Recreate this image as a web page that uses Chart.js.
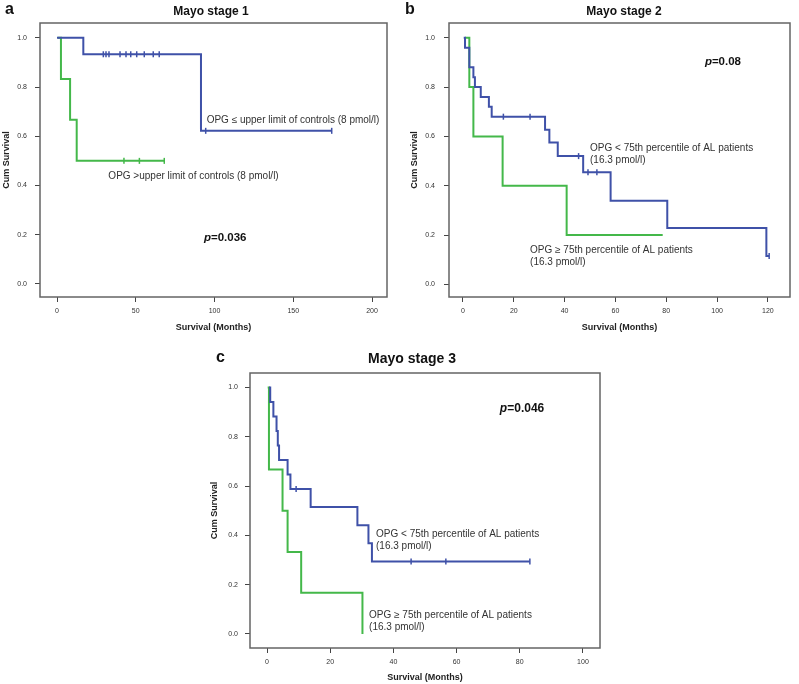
<!DOCTYPE html>
<html>
<head>
<meta charset="utf-8">
<script src="https://cdn.jsdelivr.net/npm/chart.js@4.4.1/dist/chart.umd.min.js"></script>
<style>
body{margin:0;background:#fff;width:799px;height:684px;overflow:hidden;position:relative}
canvas{position:absolute}
</style>
</head>
<body>
<canvas id="km-stage1" width="400" height="340" style="left:0;top:0"></canvas>
<canvas id="km-stage2" width="399" height="340" style="left:400px;top:0"></canvas>
<canvas id="km-stage3" width="420" height="344" style="left:190px;top:340px"></canvas>
<script>

// Mayo stage 1
var s1BlueTime = [0, 16.7, 91.4, 174.4];
var s1BlueSurv = [1, 0.933, 0.622, 0.622];
var s1BlueCensTime = [29.4, 31.1, 33.0, 40, 43.8, 46.8, 50.6, 55.4, 61.1, 64.9, 94.4, 174.4];
var s1BlueCensSurv = [0.933, 0.933, 0.933, 0.933, 0.933, 0.933, 0.933, 0.933, 0.933, 0.933, 0.622, 0.622];
var s1GreenTime = [0.4, 2.5, 8.3, 12.5, 68.1];
var s1GreenSurv = [1, 0.833, 0.667, 0.5, 0.5];
var s1GreenCensTime = [42.5, 52.3, 68.1];
var s1GreenCensSurv = [0.5, 0.5, 0.5];
var s1XTicks = [0, 50, 100, 150, 200];

// Mayo stage 2
var s2BlueTime = [0.3, 0.8, 2.5, 4.1, 4.7, 7.0, 10.2, 11.3, 32.3, 34.0, 37.3, 47.3, 58.1, 80.4, 119.4, 120.5];
var s2BlueSurv = [1, 0.96, 0.88, 0.84, 0.80, 0.76, 0.72, 0.68, 0.627, 0.575, 0.52, 0.455, 0.339, 0.228, 0.115, 0.115];
var s2BlueCensTime = [15.9, 26.4, 45.5, 49.2, 52.7, 120.5];
var s2BlueCensSurv = [0.68, 0.68, 0.52, 0.455, 0.455, 0.115];
var s2GreenTime = [0.8, 2.5, 4.1, 15.6, 40.8, 78.6];
var s2GreenSurv = [1, 0.8, 0.6, 0.4, 0.2, 0.2];
var s2GreenCensTime = [];
var s2GreenCensSurv = [];
var s2XTicks = [0, 20, 40, 60, 80, 100, 120];

// Mayo stage 3
var s3BlueTime = [0.6, 1.0, 2.0, 3.0, 3.4, 3.8, 6.5, 7.4, 13.8, 28.6, 32.1, 33.2, 83.2];
var s3BlueSurv = [1, 0.941, 0.882, 0.824, 0.765, 0.706, 0.647, 0.588, 0.515, 0.441, 0.368, 0.294, 0.294];
var s3BlueCensTime = [9.2, 45.6, 56.6, 83.2];
var s3BlueCensSurv = [0.588, 0.294, 0.294, 0.294];
var s3GreenTime = [0.2, 0.6, 4.9, 6.5, 10.8, 30.2];
var s3GreenSurv = [1, 0.667, 0.5, 0.333, 0.167, 0];
var s3GreenCensTime = [];
var s3GreenCensSurv = [];
var s3XTicks = [0, 20, 40, 60, 80, 100];

var yTicks = [0, 0.2, 0.4, 0.6, 0.8, 1.0];

var FONT = '"Liberation Sans", Arial, sans-serif';
var BLUE = '#3f51a8';
var GREEN = '#44b84a';

function pts(t, s){
    return t.map(function(x, i){ return {x: x, y: s[i]}; });
}

// frame, panel letter, title, p value and curve notes
var decor = {
    id: 'decor',
    afterDraw: function(chart, args, o){
        var ctx = chart.ctx, ca = chart.chartArea;
        var xs = chart.scales.x, ys = chart.scales.y;
        ctx.save();
        ctx.strokeStyle = '#646464';
        ctx.lineWidth = 1.5;
        ctx.strokeRect(ca.left, ca.top, ca.right - ca.left, ca.bottom - ca.top);

        ctx.fillStyle = '#111';
        ctx.textBaseline = 'middle';
        ctx.textAlign = 'left';
        ctx.font = 'bold 16px ' + FONT;
        ctx.fillText(o.letter, o.letterAt[0], o.letterAt[1]);

        ctx.textAlign = 'center';
        ctx.font = 'bold ' + o.titleSize + 'px ' + FONT;
        ctx.fillText(o.title, o.titleAt[0], o.titleAt[1]);

        ctx.textAlign = 'left';
        var px = xs.getPixelForValue(o.pAt[0]), py = ys.getPixelForValue(o.pAt[1]);
        ctx.font = 'italic bold ' + o.pSize + 'px ' + FONT;
        ctx.fillText('p', px, py);
        var w = ctx.measureText('p').width;
        ctx.font = 'bold ' + o.pSize + 'px ' + FONT;
        ctx.fillText(o.pText, px + w, py);

        ctx.font = '10px ' + FONT;
        ctx.fillStyle = '#333';
        o.notes.forEach(function(n){
            var nx = xs.getPixelForValue(n.at[0]), ny = ys.getPixelForValue(n.at[1]);
            n.lines.forEach(function(line, i){
                ctx.fillText(line, nx, ny + i * 12.5);
            });
        });
        ctx.restore();
    }
};

function kmChart(id, p){
    var censor = function(t, s, col){
        return {data: pts(t, s), showLine: false, pointStyle: 'line', rotation: 90,
                pointRadius: 3, pointBorderWidth: 1.5, borderColor: col, backgroundColor: col};
    };
    return new Chart(document.getElementById(id), {
        type: 'line',
        data: {
            datasets: [
                {data: pts(p.blueTime, p.blueSurv), borderColor: BLUE, borderWidth: 2,
                 stepped: true, pointRadius: 0, fill: false},
                {data: pts(p.greenTime, p.greenSurv), borderColor: GREEN, borderWidth: 2,
                 stepped: true, pointRadius: 0, fill: false},
                censor(p.blueCensTime, p.blueCensSurv, BLUE),
                censor(p.greenCensTime, p.greenCensSurv, GREEN)
            ]
        },
        options: {
            responsive: false,
            animation: false,
            layout: {padding: {top: p.padTop, right: p.padRight, left: 0, bottom: 0}},
            plugins: {
                legend: {display: false},
                tooltip: {enabled: false},
                decor: p.decor
            },
            scales: {
                x: {
                    type: 'linear', min: p.xMin, max: p.xMax,
                    afterBuildTicks: function(s){ s.ticks = p.xTicks.map(function(v){ return {value: v}; }); },
                    afterFit: function(s){ s.height = p.xH; },
                    grid: {display: true, drawOnChartArea: false, drawTicks: true, tickLength: 5, color: '#444'},
                    border: {display: false},
                    ticks: {font: {size: 7, family: FONT}, color: '#333', padding: 5,
                            maxRotation: 0, autoSkip: false},
                    title: {display: true, text: 'Survival (Months)', color: '#222',
                            font: {size: 9, weight: 'bold', family: FONT},
                            padding: {top: 0, bottom: p.xTitlePad}}
                },
                y: {
                    type: 'linear', min: p.yMin, max: p.yMax,
                    afterBuildTicks: function(s){ s.ticks = yTicks.map(function(v){ return {value: v}; }); },
                    afterFit: function(s){ s.width = p.yW; },
                    grid: {display: true, drawOnChartArea: false, drawTicks: true, tickLength: 5, color: '#444'},
                    border: {display: false},
                    ticks: {font: {size: 7, family: FONT}, color: '#333', padding: p.yTickPad,
                            callback: function(v){ return v.toFixed(1); }},
                    title: {display: true, text: 'Cum Survival', color: '#222',
                            font: {size: 9, weight: 'bold', family: FONT},
                            padding: {top: p.yTitlePad, bottom: 0}}
                }
            }
        },
        plugins: [decor]
    });
}

var graphsDict = {};

graphsDict["stage1"] = kmChart("km-stage1", {
    blueTime: s1BlueTime, blueSurv: s1BlueSurv, blueCensTime: s1BlueCensTime, blueCensSurv: s1BlueCensSurv,
    greenTime: s1GreenTime, greenSurv: s1GreenSurv, greenCensTime: s1GreenCensTime, greenCensSurv: s1GreenCensSurv,
    xTicks: s1XTicks, xMin: -10.8, xMax: 209.5, yMin: -0.053, yMax: 1.06,
    padTop: 23, padRight: 13, xH: 43, yW: 40, xTitlePad: 6.6, yTitlePad: 1.6, yTickPad: 8,
    decor: {
        letter: 'a', letterAt: [5, 10], title: 'Mayo stage 1', titleAt: [211, 12], titleSize: 12,
        pText: '=0.036', pAt: [93.3, 0.187], pSize: 11.5,
        notes: [
            {lines: ['OPG \u2264 upper limit of controls (8 pmol/l)'], at: [95, 0.663]},
            {lines: ['OPG >upper limit of controls (8 pmol/l)'], at: [32.6, 0.436]}
        ]
    }
});

graphsDict["stage2"] = kmChart("km-stage2", {
    blueTime: s2BlueTime, blueSurv: s2BlueSurv, blueCensTime: s2BlueCensTime, blueCensSurv: s2BlueCensSurv,
    greenTime: s2GreenTime, greenSurv: s2GreenSurv, greenCensTime: s2GreenCensTime, greenCensSurv: s2GreenCensSurv,
    xTicks: s2XTicks, xMin: -5.5, xMax: 128.7, yMin: -0.0515, yMax: 1.06,
    padTop: 23, padRight: 9, xH: 43, yW: 49, xTitlePad: 6.6, yTitlePad: 9.6, yTickPad: 9,
    decor: {
        letter: 'b', letterAt: [5, 10], title: 'Mayo stage 2', titleAt: [224, 12], titleSize: 12,
        pText: '=0.08', pAt: [95.2, 0.903], pSize: 11.5,
        notes: [
            {lines: ['OPG < 75th percentile of AL patients', '(16.3 pmol/l)'], at: [50, 0.552]},
            {lines: ['OPG \u2265 75th percentile of AL patients', '(16.3 pmol/l)'], at: [26.4, 0.139]}
        ]
    }
});

graphsDict["stage3"] = kmChart("km-stage3", {
    blueTime: s3BlueTime, blueSurv: s3BlueSurv, blueCensTime: s3BlueCensTime, blueCensSurv: s3BlueCensSurv,
    greenTime: s3GreenTime, greenSurv: s3GreenSurv, greenCensTime: s3GreenCensTime, greenCensSurv: s3GreenCensSurv,
    xTicks: s3XTicks, xMin: -5.4, xMax: 105.4, yMin: -0.057, yMax: 1.059,
    padTop: 33, padRight: 10, xH: 36, yW: 60, xTitlePad: 0.6, yTitlePad: 19.6, yTickPad: 7,
    decor: {
        letter: 'c', letterAt: [26, 18], title: 'Mayo stage 3', titleAt: [222, 19], titleSize: 14,
        pText: '=0.046', pAt: [73.7, 0.915], pSize: 12,
        notes: [
            {lines: ['OPG < 75th percentile of AL patients', '(16.3 pmol/l)'], at: [34.5, 0.405]},
            {lines: ['OPG \u2265 75th percentile of AL patients', '(16.3 pmol/l)'], at: [32.3, 0.076]}
        ]
    }
});

</script>
</body>
</html>
